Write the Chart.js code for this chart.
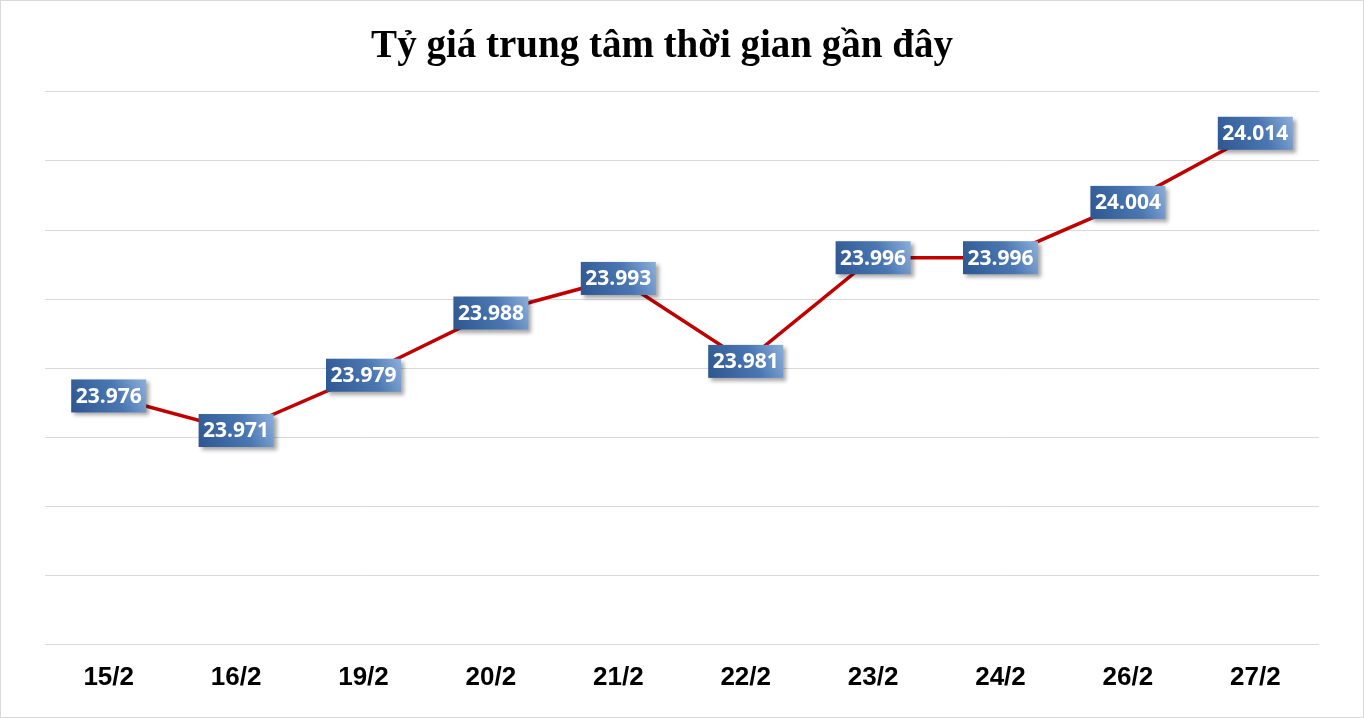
<!DOCTYPE html>
<html>
<head>
<meta charset="utf-8">
<script src="https://cdn.jsdelivr.net/npm/chart.js@4.4.1/dist/chart.umd.min.js"></script>
<style>
  html, body { margin: 0; padding: 0; background: #fff; }
  #wrap { width: 1364px; height: 718px; box-sizing: border-box; border: 1px solid #d9d9d9; }
</style>
</head>
<body>
<div id="wrap"><canvas id="chart"></canvas></div>
<script>
const days = ['15/2', '16/2', '19/2', '20/2', '21/2', '22/2', '23/2', '24/2', '26/2', '27/2'];
const rates = [23.976, 23.971, 23.979, 23.988, 23.993, 23.981, 23.996, 23.996, 24.004, 24.014];
const yMin = 23.94;
const yMax = 24.02;
const yStep = 0.01;

// the original title sits a bit left of centre
const titleShift = {
  id: 'titleShift',
  afterLayout(chart) {
    chart.titleBlock.left -= 20;
    chart.titleBlock.right -= 20;
  }
};

// blue boxes with the value on top of each point
const valueBoxes = {
  id: 'valueBoxes',
  afterDatasetsDraw(chart) {
    const ctx = chart.ctx;
    const meta = chart.getDatasetMeta(0);
    const w = 75, h = 33;
    meta.data.forEach((pt, i) => {
      const x = pt.x - w / 2;
      const y = pt.y - h / 2;
      ctx.save();
      ctx.shadowColor = 'rgba(0,0,0,0.35)';
      ctx.shadowBlur = 4;
      ctx.shadowOffsetX = 3;
      ctx.shadowOffsetY = 3;
      const g = ctx.createLinearGradient(x, y + h, x + w, y);
      g.addColorStop(0, '#2d5690');
      g.addColorStop(0.6, '#4a77b2');
      g.addColorStop(1, '#8cafdb');
      ctx.fillStyle = g;
      ctx.fillRect(x, y, w, h);
      ctx.restore();
      ctx.save();
      ctx.fillStyle = '#ffffff';
      ctx.font = 'bold 21px "Open Sans", sans-serif';
      ctx.textAlign = 'center';
      ctx.textBaseline = 'middle';
      ctx.fillText(rates[i].toFixed(3), pt.x, pt.y + 1);
      ctx.restore();
    });
  }
};

new Chart(document.getElementById('chart'), {
  type: 'line',
  data: {
    labels: days,
    datasets: [{
      data: rates,
      borderColor: '#c00000',
      borderWidth: 3.5,
      pointRadius: 0,
      tension: 0,
      fill: false
    }]
  },
  options: {
    responsive: true,
    maintainAspectRatio: false,
    animation: false,
    layout: {
      padding: { left: 44, right: 44, top: 0, bottom: 7 }
    },
    plugins: {
      legend: { display: false },
      tooltip: { enabled: false },
      title: {
        display: true,
        text: 'Tỷ giá trung tâm thời gian gần đây',
        color: '#000',
        font: { family: '"Liberation Serif", serif', size: 39, weight: 'bold' },
        padding: { top: 23, bottom: 21 }
      }
    },
    scales: {
      x: {
        offset: true,
        grid: { display: false, drawTicks: false },
        border: { display: false },
        ticks: {
          color: '#000',
          padding: 17,
          font: { family: '"Liberation Sans", Arial, sans-serif', size: 26, weight: 'bold' }
        }
      },
      y: {
        min: yMin,
        max: yMax,
        display: true,
        grid: { color: '#d9d9d9', lineWidth: 1, drawTicks: false },
        border: { display: false },
        ticks: { display: false, stepSize: yStep }
      }
    }
  },
  plugins: [titleShift, valueBoxes]
});
</script>
</body>
</html>
